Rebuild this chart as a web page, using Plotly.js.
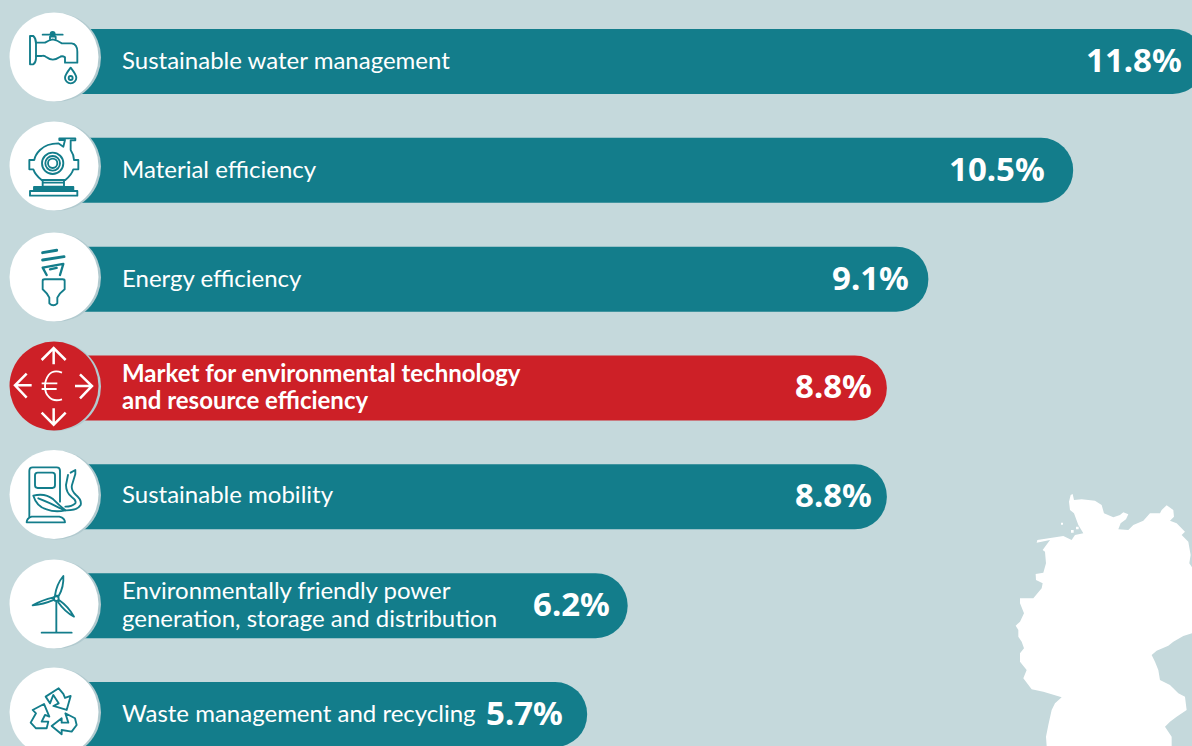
<!DOCTYPE html>
<html><head><meta charset="utf-8">
<script src="https://cdn.plot.ly/plotly-3.0.1.min.js"></script>
<style>html,body{margin:0;padding:0;background:#c5d9dc}#chart{width:1192px;height:746px}</style>
</head><body><div id="chart"></div>
<script>
// Topics, top to bottom
const categories = ["Sustainable water management","Material efficiency","Energy efficiency",
  "Market for environmental technology<br>and resource efficiency","Sustainable mobility",
  "Environmentally friendly power<br>generation, storage and distribution","Waste management and recycling"];
// Printed share labels
const shareLabels = ["11.8%","10.5%","9.1%","8.8%","8.8%","6.2%","5.7%"];
// Bar lengths (percent)
const barLengths = [11.8,10.5,9.07,8.66,8.66,6.1,5.7];
const highlighted = [false,false,false,true,false,false,false];
const TEAL="#137d8b", RED="#cd2027", BG="#c5d9dc";
// right edge of each percent label (px)
const labelRight = [1181,1044,908,871,871,609,562];
const labelNudge = [0,0,0,0,1,0,0];

const W=1192,H=746;
const pxX=p=>p/W;
const xZero=10, xScale=101.25, rowStep=108.83, rowTop=61.5;
const SANS="Lato,'Noto Sans',sans-serif";

const traces=[{type:"bar",orientation:"h",y:categories,x:barLengths,width:65/rowStep,
  marker:{color:highlighted.map(h=>h?RED:TEAL),cornerradius:32.5,line:{width:0}},
  hoverinfo:"skip"}];

const annotations=[];
categories.forEach((c,i)=>{
  const lines=c.split("<br>");
  lines.forEach((ln,k)=>{
    annotations.push({xref:"paper",yref:"y",x:pxX(122),y:i,xanchor:"left",yanchor:"middle",
      yshift:2+labelNudge[i]-(k-(lines.length-1)/2)*27.5, xshift:-2, showarrow:false,text:ln,
      font:{family:SANS,size:24,color:"#fff",weight:highlighted[i]?700:400}});
  });
  annotations.push({xref:"paper",yref:"y",x:pxX(labelRight[i]),y:i,xanchor:"right",yanchor:"middle",
    xshift:3,yshift:2,showarrow:false,text:shareLabels[i],
    font:{family:"'Noto Sans',sans-serif",size:33,color:"#fff",weight:700}});
});

// Decorative overlay: white discs, pictograms, map outline
const cy=[57,166,277,386,494.5,604,712];
let discs=`<rect x="0" y="0" width="54" height="${H}" fill="${BG}"/>`;
cy.forEach((y,i)=>{
  discs+=`<circle cx="56.5" cy="${y+0.5}" r="44.5" fill="#b2cacf"/>`;
  discs+=`<circle cx="54" cy="${y}" r="44.5" fill="${highlighted[i]?RED:'#fff'}"/>`;
});
const ic=`fill="none" stroke="${TEAL}" stroke-width="5.6" stroke-linejoin="round" stroke-linecap="round"`;
const tap=`<g ${ic}>
<path d="M90 108H100Q108 115 108 130V175Q108 188 100 193H90Z"/>
<path d="M108 128H135Q148 120 158 118Q172 120 185 130H215Q232 132 232 155V188H195V172Q186 165 178 172Q158 186 140 172Q132 165 125 168H108"/>
<path d="M150 118V110H167V118M128 104H188"/><circle cx="158" cy="102" r="6" fill="${TEAL}"/>
<path d="M212 203Q229 225 229 233A17 17 0 1 1 195 233Q195 225 212 203Z"/><circle cx="212" cy="234" r="6"/></g>`;
const pump=`<g ${ic}>
<path d="M120 450Q140 430 175 430L190 440L195 420H178V415H226V421H212V450Q222 465 222 480H235V508H220Q215 525 196 540H125Q106 525 100 508H88V480H103Q105 465 120 450Z"/>
<circle cx="158" cy="490" r="32"/><circle cx="158" cy="490" r="22"/><circle cx="158" cy="490" r="14"/>
<path d="M128 540V560H192V540M132 548H192"/>
<rect x="90" y="573" width="142" height="14"/><rect x="102" y="561" width="118" height="11" fill="${TEAL}"/></g>`;
const bulb=`<g ${ic}>
<path d="M128 758L170 751" stroke-width="9"/><path d="M128 780L192 770" stroke-width="9"/>
<path d="M128 803L190 792L180 825M128 803L140 825M150 808L170 804" stroke-width="7"/>
<path d="M128 842Q128 838 134 838H188Q194 838 194 842V868Q178 880 172 893V910Q160 922 148 910V893Q142 880 128 868Z"/></g>`;
const euro=`<g fill="none" stroke="#fff" stroke-width="7.5" stroke-linejoin="miter" stroke-linecap="butt">
<path d="M161 103V55M125 90L161 54L197 90"/><path d="M47 166H95M80 131L45 166L80 203"/>
<path d="M278 168H225M240 133L276 168L240 205"/><path d="M161 235V283M125 248L161 284L197 248"/>
<path d="M186 128Q160 118 146 135Q135 150 135 168Q135 190 146 200Q160 216 186 208" stroke-width="5.5"/>
<path d="M125 160H172M125 177H170" stroke-width="5.5"/></g>`;
const charger=`<g ${ic}>
<path d="M88 560V422Q88 412 98 412H170Q180 412 180 422V515"/>
<rect x="105" y="428" width="60" height="46" rx="8"/>
<path d="M80 577Q80 565 95 560H178Q195 565 195 577Z"/>
<path d="M100 497Q135 488 160 508Q180 528 196 541Q165 548 140 538Q110 530 100 497ZM115 505Q150 518 190 540"/>
<path d="M212 428L226 420L226 432L216 465Q212 480 228 495Q246 510 242 525Q232 542 196 541M204 435L198 465Q198 488 216 502Q230 512 226 520Q216 530 196 530"/></g>`;
const turbine=`<g ${ic}>
<path d="M169 816V905M125 908H215"/><circle cx="169" cy="806" r="7"/>
<path d="M165 796Q170 762 190 738Q192 770 176 798Z"/>
<path d="M161 810Q130 824 98 826Q125 810 161 802Z"/>
<path d="M178 811Q205 830 222 860Q195 846 174 816Z"/></g>`;
const recycle=`<g ${ic}>
<path d="M137 1100L176 1075L190 1092L195 1104L212 1098L200 1140L160 1128L176 1120L160 1095L150 1120Z"/>
<path d="M92 1178L108 1150L98 1140L132 1122L148 1160L135 1155L125 1175L145 1175L140 1195L108 1195Z"/>
<path d="M155 1188L185 1165L185 1178L205 1178L196 1150L225 1165L230 1185L215 1205L185 1200L185 1213Z"/></g>`;
const germany=`M218 42L222 60L245 58L285 62L305 75L312 100L340 112L360 105L370 97L385 103L378 118L362 130L355 148L385 150L400 135L430 122L450 100L480 100L485 90L500 76L520 90L522 110L510 122L530 130L555 155L545 165L565 185L572 225L568 250L576 262L576 460L550 468L520 485L505 497L470 512L455 525L465 545L475 570L480 600L510 615L535 640L555 650L560 690L530 710L510 725L495 740L515 770L515 798L140 798L138 770L145 735L155 690L165 670L185 652L130 635L95 628L70 595L80 570L60 545L60 520L72 505L65 485L55 470L55 450L47 437L60 425L72 400L60 370L60 355L100 355L125 325L128 310L108 300L107 282L130 278L138 250L135 215L128 210L150 180L110 188L112 180L190 168L215 180L225 165L250 160L235 135L222 100L210 90L207 65L212 45Z M183 128h6v6h-6z M213 150h8v8h-8z M228 140h8v8h-8z`;
const overlay=`<svg xmlns="http://www.w3.org/2000/svg" width="${W}" height="${H}" viewBox="0 0 ${W} ${H}">
<g transform="translate(1000,480) scale(0.3333)"><path d="${germany}" fill="#fff"/></g>
${discs}
<g transform="scale(0.3333)">${tap}${pump}${bulb}</g>
<g transform="translate(0,330) scale(0.3333)">${euro}${charger}${turbine}${recycle}</g>
</svg>`;

const layout={width:W,height:H,margin:{l:0,r:0,t:0,b:0,pad:0},paper_bgcolor:BG,plot_bgcolor:BG,showlegend:false,
  xaxis:{range:[-xZero/xScale,(W-xZero)/xScale],visible:false,fixedrange:true},
  yaxis:{range:[(H-rowTop)/rowStep,-rowTop/rowStep],visible:false,fixedrange:true,type:"category",categoryorder:"array",categoryarray:categories},
  annotations,
  images:[{source:"data:image/svg+xml;charset=utf-8,"+encodeURIComponent(overlay),xref:"paper",yref:"paper",x:0,y:1,sizex:1,sizey:1,xanchor:"left",yanchor:"top",sizing:"stretch",layer:"above"}]};
Plotly.newPlot("chart",traces,layout,{displayModeBar:false,responsive:false});
</script></body></html>
